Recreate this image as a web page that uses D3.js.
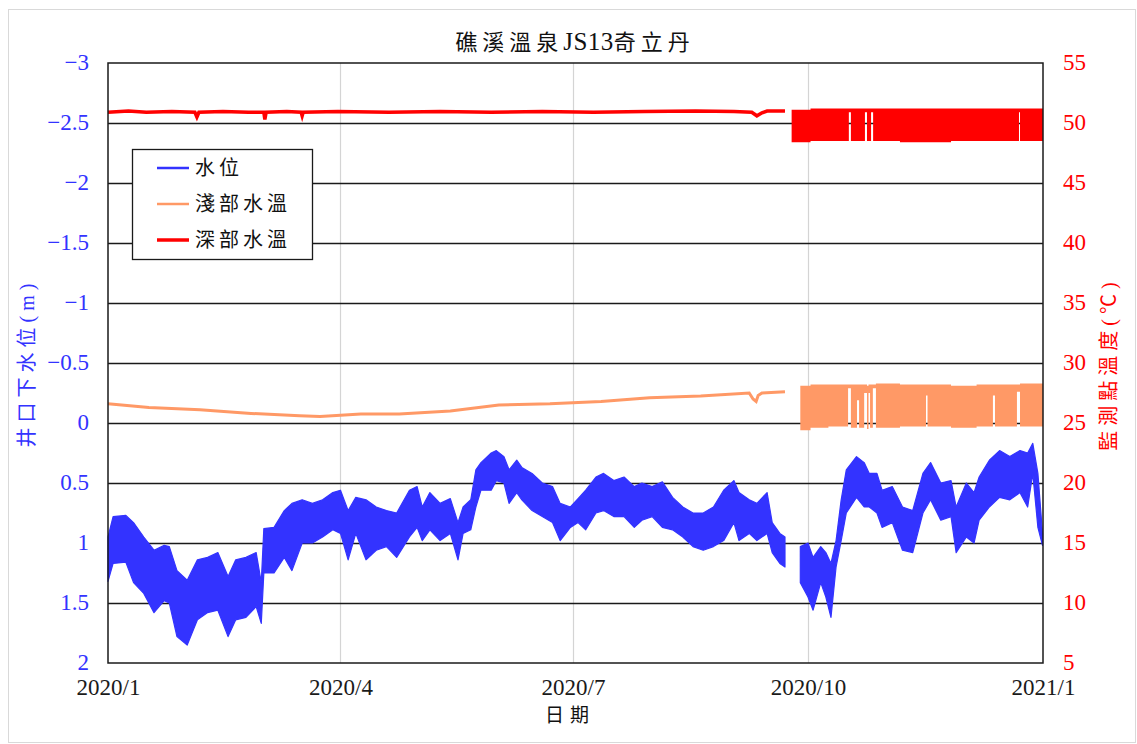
<!DOCTYPE html>
<html><head><meta charset="utf-8">
<script src="https://cdn.jsdelivr.net/npm/d3@7"></script>
<style>
html,body{margin:0;padding:0;background:#fff;}
svg text{font-family:"Liberation Serif","Noto Sans CJK TC",serif;}
</style></head>
<body><svg id="chart" width="1137" height="744"></svg>
<script>
// ---------------- data ----------------
const titleParts = ["礁溪溫泉","JS13","奇立丹"];
const xTickDates = ["2020-01-01","2020-04-01","2020-07-01","2020-10-01","2021-01-01"];
const leftTicks = [-3,-2.5,-2,-1.5,-1,-0.5,0,0.5,1,1.5,2];
const rightTicks = [5,10,15,20,25,30,35,40,45,50,55];
const seriesNames = ["水位","淺部水溫","深部水溫"];

// water level below well head (m): day offset from 2020-01-01, min and max of the daily swing
const wlDay = [0,2,7,10,14,18,22,24,27,31,35,39,43,47,50,54,58,60,61,65,69,72,76,80,84,88,91,94,97,101,105,109,113,118,121,123,126,130,134,137,139,142,144,146,150,152,155,157,160,162,166,170,174,177,181,184,187,191,194,198,202,206,209,213,217,221,225,229,233,237,241,245,247,251,254,258,260,263,265,268,271,274,276,279,281,283,285,287,289,293,296,298,301,303,307,311,315,319,322,326,330,332,336,339,341,345,349,353,357,360,362,364,365.8];
const wlMin = [0.95,0.78,0.77,0.83,0.95,1.06,1.02,1.03,1.23,1.31,1.14,1.12,1.08,1.28,1.14,1.12,1.08,1.33,0.88,0.87,0.73,0.67,0.64,0.67,0.64,0.58,0.56,0.73,0.62,0.64,0.70,0.73,0.75,0.56,0.53,0.70,0.58,0.67,0.63,0.83,0.70,0.64,0.39,0.33,0.25,0.23,0.28,0.39,0.31,0.37,0.42,0.50,0.53,0.67,0.70,0.63,0.56,0.45,0.42,0.48,0.45,0.53,0.50,0.53,0.49,0.62,0.70,0.75,0.75,0.70,0.56,0.48,0.58,0.64,0.67,0.58,0.83,0.92,0.95,null,1.03,1.00,1.12,1.03,1.08,1.17,0.98,0.64,0.39,0.28,0.33,0.42,0.42,0.56,0.53,0.70,0.73,0.42,0.33,0.50,0.48,0.70,0.50,0.58,0.45,0.31,0.23,0.28,0.23,0.25,0.17,0.42,0.92];
const wlMax = [1.32,1.17,1.16,1.33,1.42,1.58,1.48,1.50,1.78,1.85,1.64,1.58,1.56,1.78,1.64,1.62,1.53,1.67,1.25,1.25,1.12,1.23,1.00,1.00,0.95,0.89,0.92,1.14,0.92,1.14,1.06,1.03,1.12,0.95,0.87,0.98,0.89,0.98,0.92,1.14,0.92,0.89,0.70,0.56,0.56,0.48,0.50,0.67,0.58,0.64,0.73,0.78,0.83,0.98,0.87,0.83,0.89,0.75,0.73,0.78,0.78,0.87,0.81,0.78,0.87,0.89,0.95,1.03,1.06,1.03,0.98,0.83,0.98,0.92,0.98,0.92,1.08,1.17,1.20,null,1.33,1.45,1.56,1.33,1.45,1.62,1.20,0.98,0.75,0.62,0.70,0.70,0.75,0.87,0.83,1.06,1.08,0.75,0.64,0.81,0.78,1.08,0.95,1.00,0.81,0.70,0.62,0.64,0.58,0.70,0.42,0.87,1.02];

// shallow water temperature (°C)
const shLineDay = [0,16,36,56,75,83,99,114,134,153,173,193,212,232,251,252.5,253.7,254.5,256,265];
const shLineVal = [26.6,26.3,26.1,25.8,25.6,25.55,25.75,25.75,26.0,26.5,26.6,26.8,27.1,27.25,27.5,27.0,26.8,27.3,27.5,27.6];
const shBandDay = [271,275,282,289.7,290.8,293.2,294,296,297.1,297.7,298.3,299.4,300.6,310,320.2,320.8,330,340,346.4,347.2,355.8,357,362,366];
const shBandLo  = [24.4,24.6,24.7,27.9,24.6,26.9,24.6,27.5,24.5,27.5,24.6,27.9,24.6,24.7,27.3,24.7,24.6,24.7,27.3,24.7,27.6,24.7,24.7,24.7];
const shBandHi  = [28.1,28.2,28.2,28.2,28.2,28.2,28.2,28.2,28.1,28.2,28.2,28.2,28.3,28.2,28.2,28.2,28.1,28.2,28.2,28.2,28.2,28.3,28.3,28.3];

// deep water temperature (°C)
const dpLineDay = [0,8,15,25,34,34.8,35.6,45,55,61,61.4,61.9,70,75.6,76,76.4,90,110,130,150,170,190,210,230,245,252,254,256,258,265];
const dpLineVal = [50.9,51.0,50.9,50.95,50.9,50.5,50.9,50.95,50.9,50.9,50.3,50.9,50.95,50.9,50.6,50.9,50.95,50.9,50.95,50.9,50.95,50.9,50.95,51.0,50.95,50.9,50.6,50.85,51.0,51.0];
const dpBandDay = [267.6,275,290,290.8,296.3,297.1,298.7,299.5,310,330,356.6,357,366];
const dpBandLo  = [48.4,48.5,50.9,48.5,50.9,48.5,50.9,48.5,48.4,48.5,50.9,48.5,48.5];
const dpBandHi  = [51.1,51.2,51.2,51.2,51.2,51.2,51.2,51.2,51.2,51.2,51.2,51.2,51.2];

// ---------------- drawing ----------------
const BLUE = "#3333ff", ORANGE = "#ff9966", RED = "#ff0000";
const start = Date.UTC(2020,0,1);
const dayToDate = d => new Date(start + d*864e5);
const svg = d3.select("#chart");
const L = 108, R = 1043, T = 63, B = 663;

const x = d3.scaleUtc().domain([dayToDate(0), dayToDate(366)]).range([L, R]);
const yL = d3.scaleLinear().domain([-3, 2]).range([T, B]);
const yR = d3.scaleLinear().domain([5, 55]).range([B, T]);

// outer border
svg.append("rect").attr("x",8.5).attr("y",9.5).attr("width",1127).attr("height",733)
  .attr("fill","#fff").attr("stroke","#d9d9d9");

// vertical grid
const xDates = xTickDates.map(s => new Date(s + "T00:00:00Z"));
svg.append("g").selectAll("line").data(xDates.slice(1,-1)).join("line")
  .attr("x1", d => Math.round(x(d))+0.5).attr("x2", d => Math.round(x(d))+0.5)
  .attr("y1", T).attr("y2", B).attr("stroke","#d4d4d4").attr("stroke-width",1.2);

// horizontal grid
svg.append("g").selectAll("line").data(leftTicks.slice(1,-1)).join("line")
  .attr("x1", L).attr("x2", R)
  .attr("y1", d => Math.round(yL(d))+0.5).attr("y2", d => Math.round(yL(d))+0.5)
  .attr("stroke","#1a1a1a").attr("stroke-width",1.3);

// water level band
const wl = wlDay.map((d,i) => ({date: dayToDate(d), lo: wlMin[i], hi: wlMax[i]}));
svg.append("path").datum(wl)
  .attr("d", d3.area().defined(d => d.lo != null).x(d => x(d.date)).y0(d => yL(d.lo)).y1(d => yL(d.hi)))
  .attr("fill", BLUE).attr("stroke", BLUE).attr("stroke-width", 1.2).attr("stroke-linejoin","round");

// shallow temp
const shLine = shLineDay.map((d,i) => ({date: dayToDate(d), v: shLineVal[i]}));
svg.append("path").datum(shLine)
  .attr("d", d3.line().x(d => x(d.date)).y(d => yR(d.v)))
  .attr("fill","none").attr("stroke", ORANGE).attr("stroke-width", 3);
const shBand = shBandDay.map((d,i) => ({date: dayToDate(d), lo: shBandLo[i], hi: shBandHi[i]}));
svg.append("path").datum(shBand)
  .attr("d", d3.area().curve(d3.curveStepAfter).x(d => x(d.date)).y0(d => yR(d.lo)).y1(d => yR(d.hi)))
  .attr("fill", ORANGE).attr("stroke","none");

// deep temp
const dpLine = dpLineDay.map((d,i) => ({date: dayToDate(d), v: dpLineVal[i]}));
svg.append("path").datum(dpLine)
  .attr("d", d3.line().x(d => x(d.date)).y(d => yR(d.v)))
  .attr("fill","none").attr("stroke", RED).attr("stroke-width", 3.5);
const dpBand = dpBandDay.map((d,i) => ({date: dayToDate(d), lo: dpBandLo[i], hi: dpBandHi[i]}));
svg.append("path").datum(dpBand)
  .attr("d", d3.area().curve(d3.curveStepAfter).x(d => x(d.date)).y0(d => yR(d.lo)).y1(d => yR(d.hi)))
  .attr("fill", RED).attr("stroke","none");

// plot frame
svg.append("rect").attr("x",L).attr("y",T).attr("width",R-L).attr("height",B-T)
  .attr("fill","none").attr("stroke","#1a1a1a").attr("stroke-width",1.5);

// axes
const axL = svg.append("g").attr("transform",`translate(${L},0)`)
  .call(d3.axisLeft(yL).tickValues(leftTicks).tickSize(0).tickPadding(19).tickFormat(d3.format("")));
axL.select(".domain").remove();
axL.selectAll("text").attr("fill", BLUE).style("font-size","23px").attr("dy","0.3em");

const axR = svg.append("g").attr("transform",`translate(${R},0)`)
  .call(d3.axisRight(yR).tickValues(rightTicks).tickSize(0).tickPadding(20));
axR.select(".domain").remove();
axR.selectAll("text").attr("fill", RED).style("font-size","23px").attr("dy","0.3em");

const axB = svg.append("g").attr("transform",`translate(0,${B})`)
  .call(d3.axisBottom(x).tickValues(xDates).tickSize(0).tickPadding(16).tickFormat(d3.utcFormat("%Y/%-m")));
axB.select(".domain").remove();
axB.selectAll("text").attr("fill","#1a1a1a").style("font-size","23px");

// title (CJK parts spaced, latin part larger and unspaced)
const tt = svg.append("text").attr("x",575).attr("y",50).attr("text-anchor","middle")
  .style("font-size","22px").attr("fill","#111");
titleParts.forEach((p,i) => {
  tt.append("tspan").style("letter-spacing", i === 1 ? "0.5px" : "5px")
    .style("font-size", i === 1 ? "25px" : "22px").text(p);
});

// axis titles
svg.append("text").attr("transform","translate(34,363) rotate(-90)").attr("text-anchor","middle")
  .style("font-size","20px").style("letter-spacing","5px").attr("fill",BLUE).text("井口下水位(m)");
svg.append("text").attr("transform","translate(1116,364) rotate(-90)").attr("text-anchor","middle")
  .style("font-size","20px").style("letter-spacing","5px").attr("fill",RED).text("監測點溫度(℃)");
svg.append("text").attr("x",570).attr("y",722).attr("text-anchor","middle")
  .style("font-size","19px").style("letter-spacing","6px").attr("fill","#111").text("日期");

// legend
const lg = svg.append("g");
lg.append("rect").attr("x",132.5).attr("y",149.5).attr("width",180).attr("height",110)
  .attr("fill","#fff").attr("stroke","#1a1a1a").attr("stroke-width",1.3);
const lgColors = [BLUE, ORANGE, RED], lgWidths = [2.5, 2.5, 3.5];
seriesNames.forEach((n,i) => {
  const yy = 168 + i*36;
  lg.append("line").attr("x1",157).attr("x2",189).attr("y1",yy).attr("y2",yy)
    .attr("stroke", lgColors[i]).attr("stroke-width", lgWidths[i]);
  lg.append("text").attr("x",195).attr("y",yy).attr("dy","0.36em")
    .style("font-size","20px").style("letter-spacing","4px").attr("fill","#111").text(n);
});
</script></body></html>
